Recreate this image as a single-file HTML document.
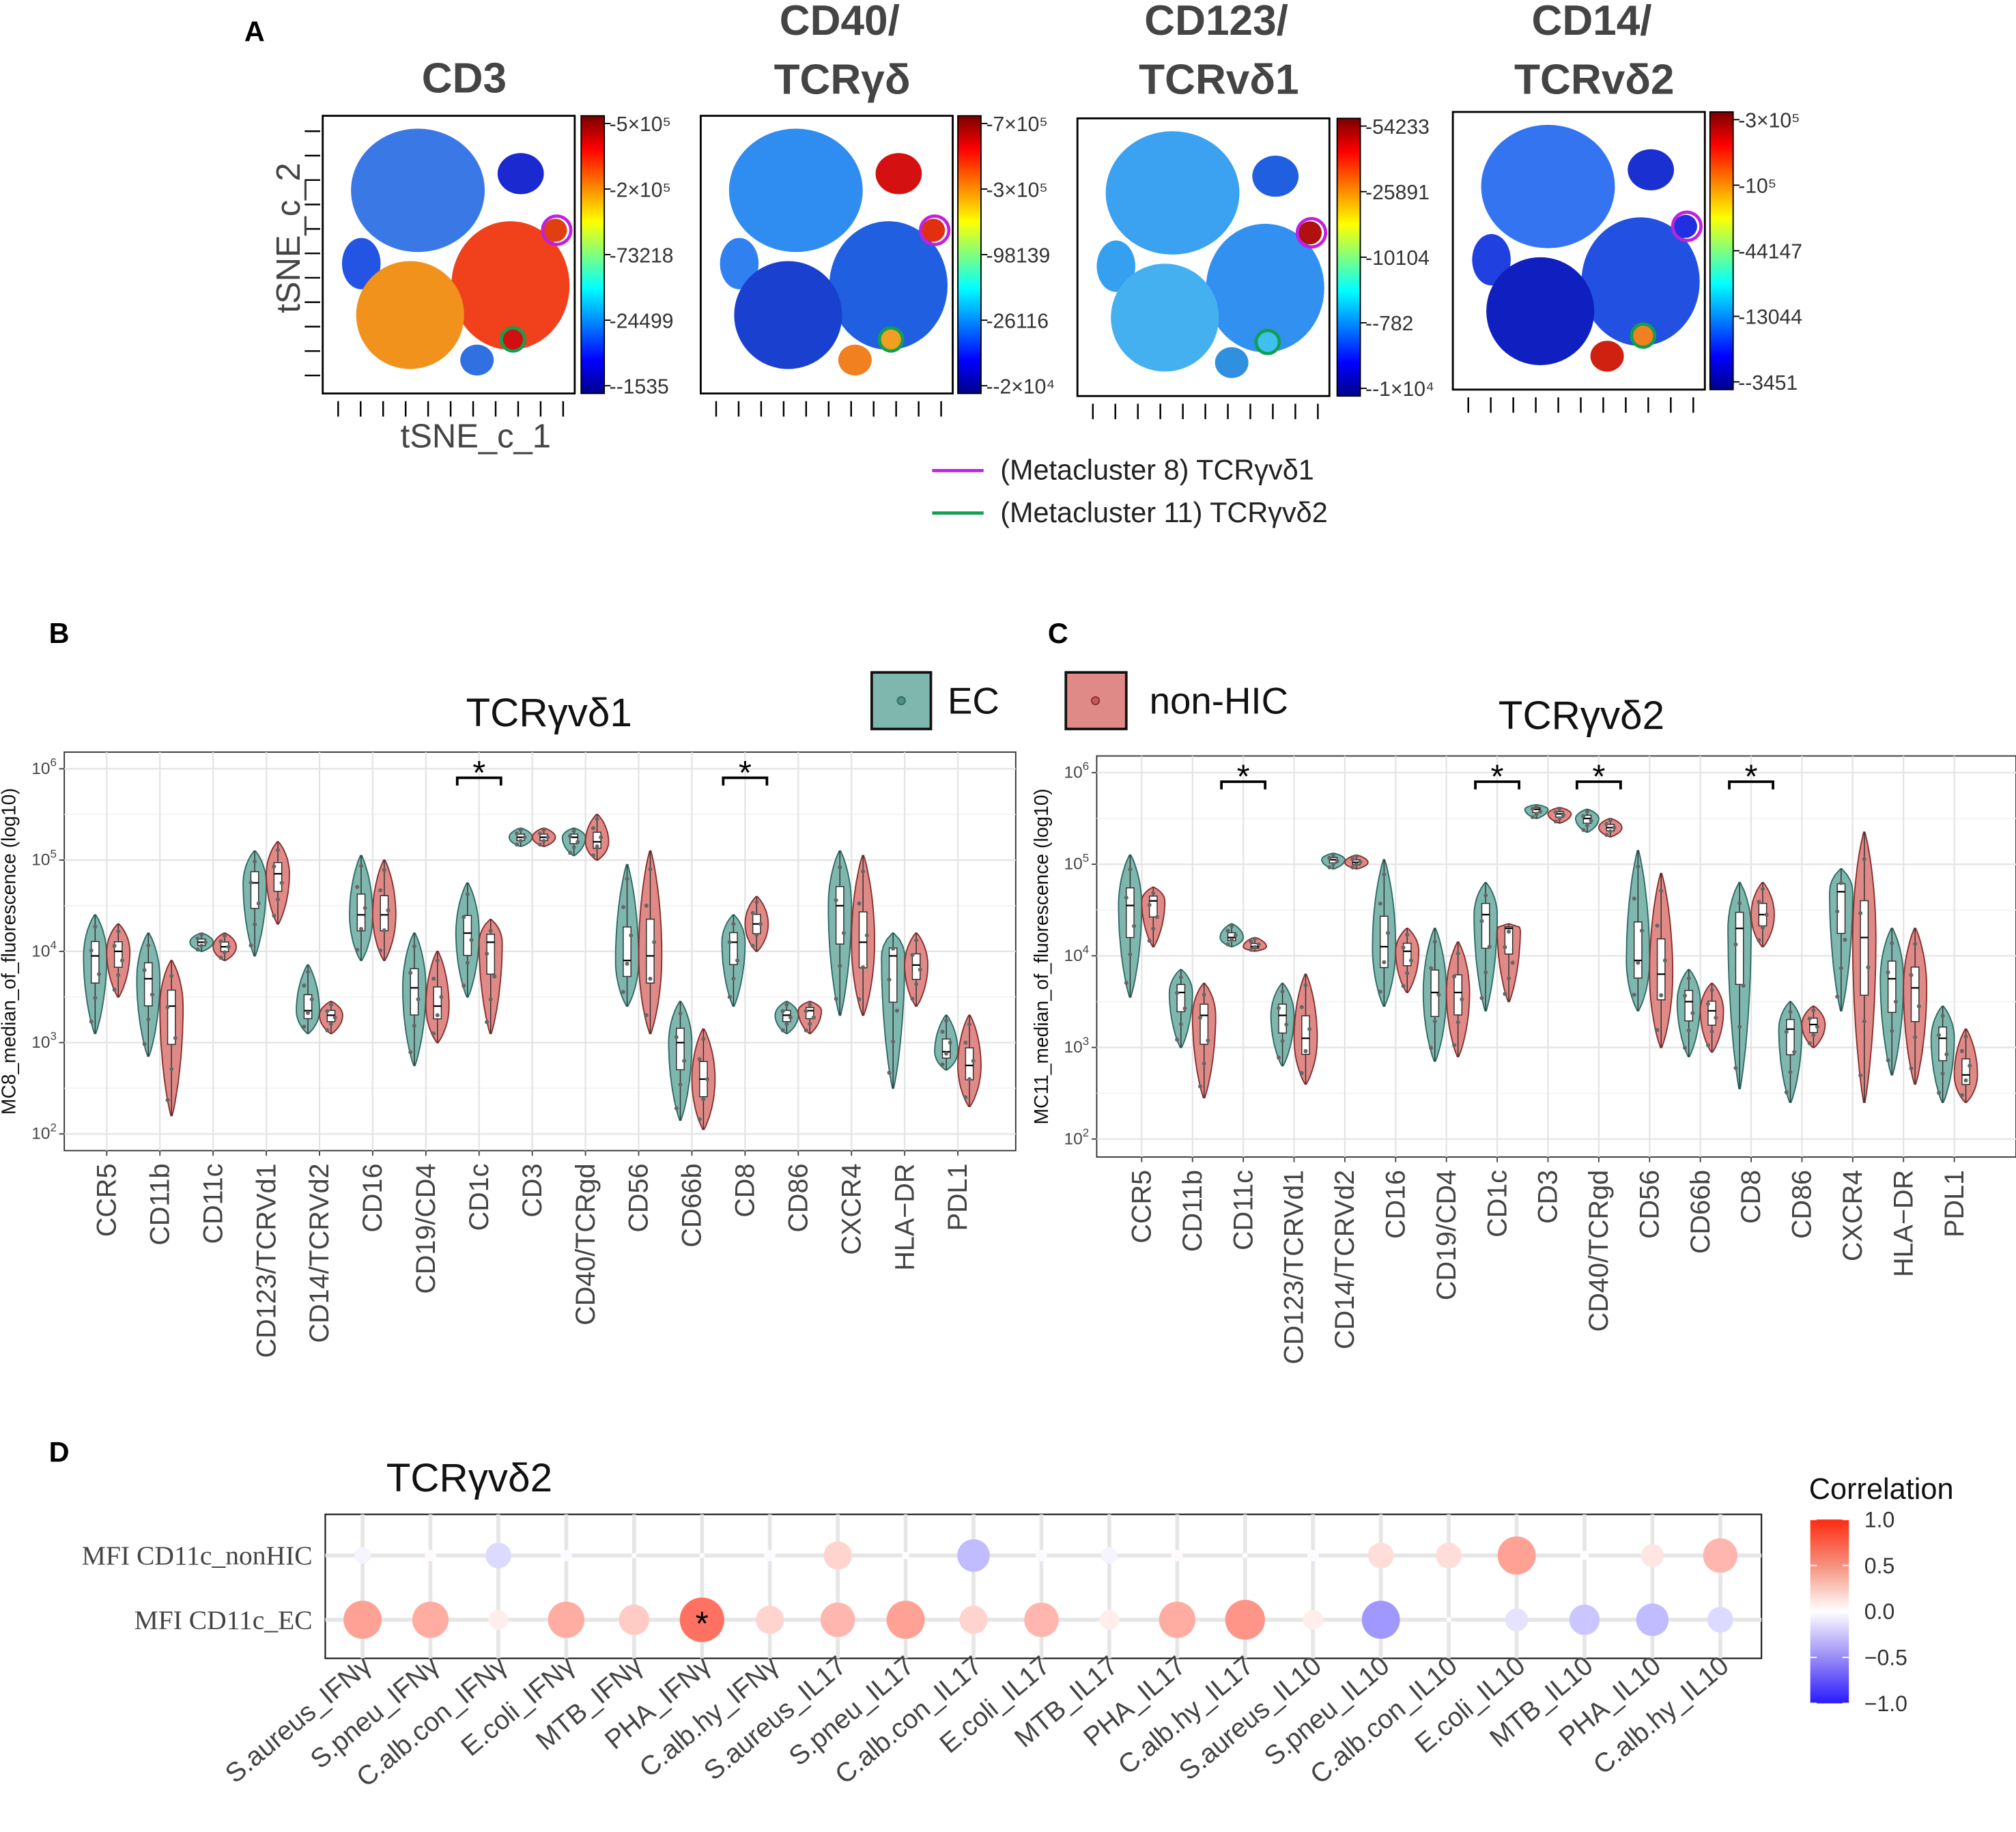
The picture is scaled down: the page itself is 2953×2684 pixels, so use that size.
<!DOCTYPE html>
<html><head><meta charset="utf-8"><style>
html,body{margin:0;padding:0;background:#fff;}
svg{display:block;font-family:"Liberation Sans",sans-serif;}
</style></head><body>
<svg id="fig" width="2953" height="2684" viewBox="0 0 1568 1425" xmlns="http://www.w3.org/2000/svg">
<defs>
<linearGradient id="jet" x1="0" y1="0" x2="0" y2="1">
<stop offset="0" stop-color="#7a0000"/><stop offset="0.12" stop-color="#ff0000"/><stop offset="0.38" stop-color="#ffff00"/><stop offset="0.62" stop-color="#00ffff"/><stop offset="0.88" stop-color="#0000ff"/><stop offset="1" stop-color="#00008a"/>
</linearGradient>
<linearGradient id="corr" x1="0" y1="0" x2="0" y2="1">
<stop offset="0" stop-color="#ff2a10"/><stop offset="0.25" stop-color="#f5917e"/><stop offset="0.5" stop-color="#ffffff"/><stop offset="0.75" stop-color="#9a8cf5"/><stop offset="1" stop-color="#2a1aff"/>
</linearGradient>
</defs>
<g id="panelA"></g>
<g id="panelB"></g>
<g id="panelC"></g>
<g id="panelD"></g>
</svg>
<script>
const NS="http://www.w3.org/2000/svg";
// ---------- data ----------
const markers=["CCR5","CD11b","CD11c","CD123/TCRVd1","CD14/TCRVd2","CD16","CD19/CD4","CD1c","CD3","CD40/TCRgd","CD56","CD66b","CD8","CD86","CXCR4","HLA−DR","PDL1"];
const yTickExp=[2,3,4,5,6];
// panel B (log10): median, min, max
const bEcMed=[3.95,3.7,4.1,4.75,3.35,4.4,3.6,4.2,5.25,5.25,3.9,3.0,4.1,3.3,4.5,3.95,2.9];
const bEcLo=[3.1,2.85,4.0,3.95,3.1,3.9,2.75,3.5,5.15,5.05,3.4,2.15,3.4,3.1,3.3,2.5,2.7];
const bEcHi=[4.4,4.2,4.2,5.1,3.85,5.05,4.2,4.75,5.35,5.35,4.95,3.45,4.4,3.45,5.1,4.2,3.3];
const bNhMed=[4.0,3.4,4.05,4.85,3.3,4.4,3.4,4.1,5.25,5.2,3.95,2.6,4.3,3.35,4.1,3.85,2.75];
const bNhLo=[3.5,2.2,3.9,4.3,3.1,3.9,3.0,3.1,5.15,5.0,3.1,2.05,4.0,3.1,3.3,3.4,2.3];
const bNhHi=[4.3,3.9,4.2,5.2,3.45,5.0,4.0,4.35,5.35,5.5,5.1,3.15,4.6,3.45,5.05,4.2,3.3];
const bSig=[7,12];
// panel C
const cEcMed=[4.55,3.6,4.2,3.35,5.05,4.1,3.6,4.45,5.6,5.5,3.95,3.5,4.3,3.2,4.7,3.75,3.1];
const cEcLo=[3.55,3.0,4.1,2.8,4.95,3.45,2.85,3.4,5.5,5.35,3.4,2.9,2.55,2.4,3.4,2.7,2.4];
const cEcHi=[5.1,3.85,4.35,3.7,5.12,5.05,4.3,4.8,5.65,5.6,5.15,3.85,4.8,3.5,4.95,4.3,3.45];
const cNhMed=[4.6,3.35,4.1,3.1,5.02,4.05,3.6,4.3,5.55,5.4,3.8,3.4,4.45,3.25,4.2,3.65,2.7];
const cNhLo=[4.1,2.45,4.05,2.6,4.95,3.6,2.9,3.5,5.45,5.3,3.0,2.95,4.1,3.0,2.4,2.6,2.4];
const cNhHi=[4.75,3.7,4.2,3.8,5.1,4.3,4.15,4.35,5.62,5.5,4.9,3.7,4.8,3.45,5.35,4.3,3.2];
const cSig=[2,7,9,12];
// panel D
const dCols=["S.aureus_IFNγ","S.pneu_IFNγ","C.alb.con_IFNγ","E.coli_IFNγ","MTB_IFNγ","PHA_IFNγ","C.alb.hy_IFNγ","S.aureus_IL17","S.pneu_IL17","C.alb.con_IL17","E.coli_IL17","MTB_IL17","PHA_IL17","C.alb.hy_IL17","S.aureus_IL10","S.pneu_IL10","C.alb.con_IL10","E.coli_IL10","MTB_IL10","PHA_IL10","C.alb.hy_IL10"];
const dNonHIC=[-0.1,0.05,-0.25,-0.05,0,0,-0.05,0.3,0.02,-0.4,-0.05,-0.1,0.05,0,-0.05,0.25,0.25,0.55,-0.03,0.2,0.45];
const dEC=[0.55,0.5,0.15,0.5,0.35,0.75,0.3,0.45,0.55,0.3,0.45,0.15,0.5,0.6,0.15,-0.55,0,-0.2,-0.35,-0.4,-0.25];
const dStar=[5];
const corrTicks=[1.0,0.5,0.0,-0.5,-1.0];

// ---------- helpers ----------
function el(tag,attrs,parent,txt){const e=document.createElementNS(NS,tag);for(const k in attrs)e.setAttribute(k,attrs[k]);if(txt!==undefined)e.textContent=txt;parent.appendChild(e);return e;}

// ---------- panel A ----------
const A=document.getElementById('panelA');
const defs=document.querySelector('defs');
el('text',{x:190,y:32,'font-size':22,'font-weight':'bold',},A,'A');
const tsneBoxes=[
 {x:251,y:90,bx:452,t:["","CD3"],ticks:["5×10⁵","2×10⁵","73218","24499","-1535"],cols:["#3a78e6","#1a2ad0","#2454e4","#f0401c","#f0921c","#3070e0","#e04010","#d01010"]},
 {x:545,y:90,bx:745,t:["CD40/","TCRγδ"],ticks:["7×10⁵","3×10⁵","98139","26116","-2×10⁴"],cols:["#2f8cf0","#d41010","#3080f0","#2060e0","#1a40d0","#f08020","#e03010","#f0a020"]},
 {x:838,y:92,bx:1040,t:["CD123/","TCRvδ1"],ticks:["54233","25891","10104","-782","-1×10⁴"],cols:["#3aa2f0","#2060e0","#36a0f0","#3290f0","#44b0f0","#3090e0","#b01010","#40c0f0"]},
 {x:1130,y:87,bx:1330,t:["CD14/","TCRvδ2"],ticks:["3×10⁵","10⁵","44147","13044","-3451"],cols:["#3474f0","#1a30d0","#2040e0","#2250e0","#1020c0","#d02010","#2030e0","#f08020"]}
];
tsneBoxes.forEach((b,i)=>{
 const g=el('g',{},A);
 
 
 const cx=b.x+98;
 if(b.t[0])el('text',{x:cx+10,y:27,'font-size':33,'font-weight':'bold','text-anchor':'middle',fill:'#444'},g,b.t[0]);
 el('text',{x:cx+12,y:b.t[0]?73:72,'font-size':33,'font-weight':'bold','text-anchor':'middle',fill:'#444'},g,b.t[1]);
 const cp=el('clipPath',{id:'clip'+i},defs);
 el('rect',{x:b.x+2,y:b.y+2,width:192,height:212},cp);
 el('rect',{x:b.x,y:b.y,width:196,height:216,fill:'#fff',stroke:'#000','stroke-width':1.5},g);
 const c=b.cols, X=b.x, Y=b.y;
 const cg=el('g',{'clip-path':`url(#clip${i})`},g);
 const shapes=[[74,58,52,48,0],[154,45,18,16,1],[30,115,15,20,2],[146,132,46,50,3],[68,155,42,42,4],[120,190,13,12,5],[181,89,9,9,6],[148,174,8,8,7]];
 shapes.forEach(s=>el('ellipse',{cx:X+s[0],cy:Y+s[1],rx:s[2],ry:s[3],fill:c[s[4]]},cg));
 el('circle',{cx:X+182,cy:Y+89,r:11,fill:'none',stroke:'#c020e0','stroke-width':2.5},g);
 el('circle',{cx:X+148,cy:Y+174,r:9,fill:'none',stroke:'#10a050','stroke-width':2.5},g);
 for(let k=0;k<11;k++){const tx=X+12+k*17.5;el('line',{x1:tx,y1:Y+222,x2:tx,y2:Y+234,stroke:'#000','stroke-width':1.3},g);}
 el('rect',{x:b.bx,y:b.y,width:18,height:216,fill:'url(#jet)',stroke:'#000','stroke-width':1},g);
 b.ticks.forEach((t,k)=>{const ty=b.y+6+k*51;el('line',{x1:b.bx+18,y1:ty,x2:b.bx+23,y2:ty,stroke:'#000'},g);el('text',{x:b.bx+22,y:ty+6,'font-size':16,fill:'#333'},g,'-'+t);});
});
for(let k=0;k<11;k++){const ty=102+k*19;el('line',{x1:237,y1:ty,x2:249,y2:ty,stroke:'#000','stroke-width':1.3},A);}
el('text',{x:233,y:185,'font-size':26,fill:'#444','text-anchor':'middle',transform:'rotate(-90 233 185)',},A,'tSNE_c_2');
el('text',{x:370,y:348,'font-size':26,fill:'#444','text-anchor':'middle',},A,'tSNE_c_1');
const lg=el('g',{},A);


el('line',{x1:725,y1:366,x2:765,y2:366,stroke:'#c020e0','stroke-width':2.5},lg);
el('line',{x1:725,y1:399,x2:765,y2:399,stroke:'#10a050','stroke-width':2.5},lg);
el('text',{x:778,y:373,'font-size':22,fill:'#222'},lg,'(Metacluster 8)   TCRγvδ1');
el('text',{x:778,y:406,'font-size':22,fill:'#222'},lg,'(Metacluster 11) TCRγvδ2');

// ---------- violin panels ----------
function violinPanel(P,cfg){
 const {L,R,T,B,y6,y2,x0,x1,title,tx,ty,ylab,ec,nh,sig,labelX,labelTitle}=cfg;
 el('text',{x:labelX,y:500,'font-size':22,'font-weight':'bold',},P,labelTitle.toUpperCase());
 const yS=v=>y2+(v-2)*(y6-y2)/4;
 const step=(x1-x0)/(markers.length-1);
 const xS=i=>x0+i*step;
 el('text',{x:tx,y:ty,'font-size':31,fill:'#111','text-anchor':'middle',},P,title);
 el('rect',{x:L,y:T,width:R-L,height:B-T,fill:'#fff',stroke:'#333','stroke-width':1},P);
 for(let e=2;e<=6;e++){el('line',{x1:L,x2:R,y1:yS(e),y2:yS(e),stroke:'#e4e4e4','stroke-width':1.2},P);
   if(e<6)el('line',{x1:L,x2:R,y1:yS(e+0.5),y2:yS(e+0.5),stroke:'#f2f2f2','stroke-width':0.8},P);}
 markers.forEach((m,i)=>el('line',{x1:xS(i),x2:xS(i),y1:T,y2:B,stroke:'#e4e4e4','stroke-width':1.2},P));
 yTickExp.forEach(e=>{const t=el('text',{x:L-6,y:yS(e)+4,'font-size':13,fill:'#444','text-anchor':'end'},P);t.textContent='10';el('tspan',{dy:-6,'font-size':9},t,String(e));
   el('line',{x1:L-4,x2:L,y1:yS(e),y2:yS(e),stroke:'#444'},P);});
 el('text',{x:L-38,y:(T+B)/2,'font-size':15,fill:'#111','text-anchor':'middle',transform:`rotate(-90 ${L-38} ${(T+B)/2})`,},P,ylab);
 markers.forEach((m,i)=>{
  el('line',{x1:xS(i),x2:xS(i),y1:B,y2:B+4,stroke:'#444'},P);
  const t=el('text',{x:xS(i)+7,y:B+10,'font-size':21,fill:'#444','text-anchor':'end',transform:`rotate(-90 ${xS(i)+7} ${B+10})`},P,m);
  
  
 });
 const groups=[{d:ec,off:-9,fill:'#7fb7ae',st:'#2e6b63'},{d:nh,off:9,fill:'#e08a88',st:'#8a2e2e'}];
 groups.forEach((gp,gi)=>{
  markers.forEach((m,i)=>{
   const med=gp.d[0][i],lo=gp.d[1][i],hi=gp.d[2][i];
   const cx=xS(i)+gp.off,W=8.5;
   const left=[],right=[];
   const N=24;
   for(let k=0;k<=N;k++){const v=lo+(hi-lo)*k/N;const d=v<med?(med-v)/(med-lo||1):(v-med)/(hi-med||1);const w=W*Math.pow(Math.max(0,1-d*d),0.9)+0.5;const y=yS(v);left.push([cx-w,y]);right.push([cx+w,y]);}
   const pts=left.concat(right.reverse()).map(p=>p[0].toFixed(1)+','+p[1].toFixed(1)).join(' ');
   const v=el('polygon',{points:pts,fill:gp.fill,stroke:gp.st,'stroke-width':1},P);
   
   
   const q1=med-(med-lo)*0.35,q3=med+(hi-med)*0.35;
   el('line',{x1:cx,x2:cx,y1:yS(lo),y2:yS(hi),stroke:'#333','stroke-width':0.8},P);
   el('rect',{x:cx-3,y:yS(q3),width:6,height:Math.max(1,yS(q1)-yS(q3)),fill:'#fff',stroke:'#333','stroke-width':0.8},P);
   el('line',{x1:cx-3,x2:cx+3,y1:yS(med),y2:yS(med),stroke:'#000','stroke-width':1.2},P);
   for(let k=0;k<5;k++){const vv=lo+(hi-lo)*(k+0.5)/5;el('circle',{cx:cx+((k%3)-1)*3,cy:yS(vv),r:1.6,fill:'#666'},P);}
  });
 });
 sig.forEach(i=>{const y=Math.min(T+20,yS(Math.max(ec[2][i],nh[2][i]))-12);
  const s=el('g',{},P);
  
  
  el('path',{d:`M${xS(i)-17},${y+6} V${y} H${xS(i)+17} V${y+6}`,fill:'none',stroke:'#000','stroke-width':2},s);
  el('text',{x:xS(i),y:y+5,'font-size':26,'text-anchor':'middle'},s,'*');});
}
violinPanel(document.getElementById('panelB'),{L:50,R:790,T:585,B:895,y6:598,y2:882,x0:83,x1:745,title:'TCRγvδ1',tx:427,ty:565,ylab:'MC8_median_of_fluorescence (log10)',ec:[bEcMed,bEcLo,bEcHi],nh:[bNhMed,bNhLo,bNhHi],sig:bSig,labelX:38,labelTitle:'b'});
violinPanel(document.getElementById('panelC'),{L:853,R:1568,T:588,B:900,y6:601,y2:886,x0:888,x1:1520,title:'TCRγvδ2',tx:1230,ty:567,ylab:'MC11_median_of_fluorescence (log10)',ec:[cEcMed,cEcLo,cEcHi],nh:[cNhMed,cNhLo,cNhHi],sig:cSig,labelX:815,labelTitle:'c'});
const LG=el('g',{},document.getElementById('panelB'));


el('rect',{x:678,y:523,width:46,height:44,fill:'#7fb7ae',stroke:'#111','stroke-width':2},LG);
el('circle',{cx:701,cy:545,r:3,fill:'#4f8f86',stroke:'#2e6b63'},LG);
el('text',{x:737,y:555,'font-size':29,fill:'#111'},LG,'EC');
el('rect',{x:829,y:523,width:47,height:44,fill:'#e08a88',stroke:'#111','stroke-width':2},LG);
el('circle',{cx:852,cy:545,r:3,fill:'#c05a5a',stroke:'#8a2e2e'},LG);
el('text',{x:894,y:555,'font-size':29,fill:'#111'},LG,'non-HIC');

// ---------- panel D ----------
const D=document.getElementById('panelD');
el('text',{x:38,y:1137,'font-size':22,'font-weight':'bold',},D,'D');
el('text',{x:365,y:1160,'font-size':31,fill:'#111','text-anchor':'middle',},D,'TCRγvδ2');
const dL=253,dR=1370,dT=1178,dB=1290;
el('rect',{x:dL,y:dT,width:dR-dL,height:dB-dT,fill:'#fff',stroke:'#222','stroke-width':1.2},D);
const cxS=i=>282+i*(1338-282)/(dCols.length-1);
const rows=[{y:1210,v:dNonHIC,n:'MFI CD11c_nonHIC'},{y:1260,v:dEC,n:'MFI CD11c_EC'}];
rows.forEach(r=>el('line',{x1:dL,x2:dR,y1:r.y,y2:r.y,stroke:'#e6e6e6','stroke-width':3},D));
dCols.forEach((c,i)=>el('line',{x1:cxS(i),x2:cxS(i),y1:dT,y2:dB,stroke:'#e6e6e6','stroke-width':3},D));
function corrColor(r){const a=Math.min(1,Math.abs(r));const t=r>=0?[255,50,25]:[50,30,255];const m=(x,y)=>Math.round(255+(y-255)*Math.pow(a,1.3));return `rgb(${m(255,t[0])},${m(255,t[1])},${m(255,t[2])})`;}
rows.forEach((r,ri)=>{
 el('text',{x:243,y:r.y+7,'font-size':21,fill:'#444','text-anchor':'end','font-family':'Liberation Serif, serif'},D,r.n);
 r.v.forEach((v,i)=>{const c=el('circle',{cx:cxS(i),cy:r.y,r:Math.max(2,20*Math.sqrt(Math.abs(v))),fill:corrColor(v)},D);
  
  });
});
dStar.forEach(i=>el('text',{x:cxS(i),y:1272,'font-size':26,'text-anchor':'middle'},D,'*'));
dCols.forEach((c,i)=>{const t=el('text',{x:cxS(i)+8,y:1298,'font-size':21,fill:'#444','text-anchor':'end',transform:`rotate(-40 ${cxS(i)+8} 1298)`},D,c);
 
 });
el('text',{x:1407,y:1166,'font-size':23,fill:'#111',},D,'Correlation');
el('rect',{x:1408,y:1182,width:30,height:143,fill:'url(#corr)',},D);
corrTicks.forEach(t=>{const y=1182+(1-t)/2*143;el('line',{x1:1408,x2:1413,y1:y,y2:y,stroke:'#fff'},D);el('line',{x1:1433,x2:1438,y1:y,y2:y,stroke:'#fff'},D);
 el('text',{x:1450,y:y+6,'font-size':17,fill:'#333'},D,(t<0?'−':'')+Math.abs(t).toFixed(1));});
</script>
</body></html>
